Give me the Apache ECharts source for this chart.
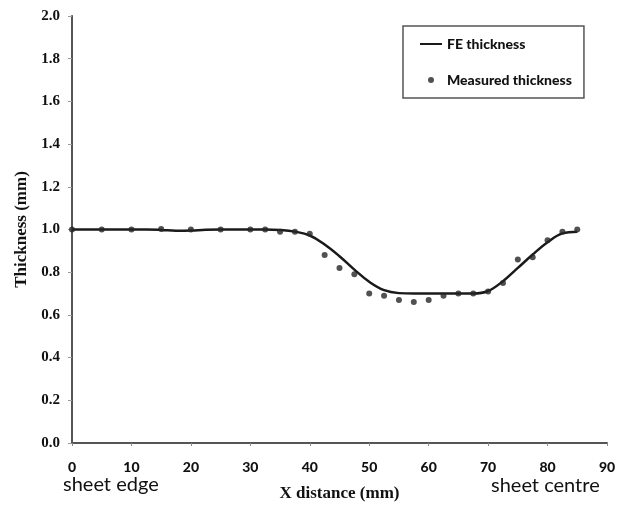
<!DOCTYPE html>
<html><head><meta charset="utf-8">
<script src="https://cdn.jsdelivr.net/npm/echarts@6/dist/echarts.min.js"></script>
<style>html,body{margin:0;padding:0;background:#fff}#c{width:623px;height:507px}</style>
</head><body><div id="c"></div>
<script>
const feX = [0,2.5,5,7.5,10,12.5,15,17.5,20,22.5,25,27.5,30,32.5,35,37.5,40,42.5,45,47.5,50,52.5,55,57.5,60,62.5,65,67.5,70,72.5,75,77.5,80,82.5,85];
const feY = [1.0,1.0,1.0,1.0,1.0,1.0,0.998,0.994,0.995,0.999,1.0,1.0,1.0,1.0,0.998,0.99,0.972,0.93,0.875,0.812,0.755,0.716,0.702,0.70,0.70,0.70,0.70,0.70,0.712,0.758,0.82,0.883,0.94,0.982,0.99];
const measX = [0,5,10,15,20,25,30,32.5,35,37.5,40,42.5,45,47.5,50,52.5,55,57.5,60,62.5,65,67.5,70,72.5,75,77.5,80,82.5,85];
const measY = [1.0,1.0,1.0,1.002,1.0,1.0,1.0,1.0,0.99,0.99,0.98,0.88,0.82,0.79,0.70,0.69,0.67,0.66,0.67,0.69,0.70,0.70,0.71,0.75,0.86,0.87,0.95,0.99,1.0];
const xTicks = {min:0, max:90, interval:10};
const yTicks = {min:0, max:2, interval:0.2};

const chart = echarts.init(document.getElementById('c'));
const serif = '"Liberation Serif", "Times New Roman", serif';
const sans = 'Lato, "Open Sans", sans-serif';
chart.setOption({
  animation:false,
  backgroundColor:'#fff',
  grid:{left:72, right:16, top:16, bottom:63},
  legend:{
    left:403, top:26, orient:'vertical',
    padding:[11,12,11,16], itemGap:22,
    itemWidth:22, itemHeight:6,
    borderColor:'#555', borderWidth:1.5, borderRadius:0,
    textStyle:{fontFamily:sans, fontWeight:900, fontSize:14, color:'#111'},
    data:[{name:'FE thickness', itemStyle:{opacity:0}},{name:'Measured thickness', icon:'circle'}]
  },
  xAxis:[{
    type:'value', min:xTicks.min, max:xTicks.max, interval:xTicks.interval,
    name:'X distance (mm)', nameLocation:'middle', nameGap:42,
    nameTextStyle:{fontFamily:serif, fontWeight:'bold', fontSize:17, color:'#111'},
    axisLine:{show:true, lineStyle:{color:'#888', width:1}},
    axisTick:{show:true, length:3, lineStyle:{color:'#888'}},
    axisLabel:{fontFamily:sans, fontWeight:900, fontSize:14, color:'#111', margin:17},
    splitLine:{show:false}
  },{
    type:'value', position:'top', min:xTicks.min, max:xTicks.max,
    axisLine:{show:true, lineStyle:{color:'#555', width:2}},
    axisTick:{show:false}, axisLabel:{show:false}, splitLine:{show:false}
  }],
  yAxis:[{
    type:'value', min:yTicks.min, max:yTicks.max, interval:yTicks.interval,
    name:'Thickness (mm)', nameLocation:'middle', nameGap:40, nameRotate:90,
    nameTextStyle:{fontFamily:serif, fontWeight:'bold', fontSize:17, color:'#111'},
    axisLine:{show:true, lineStyle:{color:'#999', width:1}},
    axisTick:{show:true, length:4, lineStyle:{color:'#999'}},
    axisLabel:{fontFamily:serif, fontWeight:'bold', fontSize:15, color:'#111', margin:12,
      formatter:v=>v.toFixed(1)},
    splitLine:{show:false}
  },{
    type:'value', position:'right', min:yTicks.min, max:yTicks.max,
    axisLine:{show:true, lineStyle:{color:'#555', width:2}},
    axisTick:{show:false}, axisLabel:{show:false}, splitLine:{show:false}
  }],
  graphic:[
    {type:'text', left:63, top:475, style:{text:'sheet edge', font:'20px '+sans, fill:'#111'}},
    {type:'text', left:491, top:476, style:{text:'sheet centre', font:'20px '+sans, fill:'#111'}}
  ],
  series:[
    {name:'FE thickness', type:'line', smooth:0.4, symbol:'none',
     lineStyle:{color:'#1a1a1a', width:2.5}, itemStyle:{color:'#1a1a1a'},
     data:feX.map((x,i)=>[x,feY[i]]), z:2},
    {name:'Measured thickness', type:'scatter', symbol:'circle', symbolSize:6,
     itemStyle:{color:'#262626'}, data:measX.map((x,i)=>[x,measY[i]]), z:3}
  ]
});
</script></body></html>
